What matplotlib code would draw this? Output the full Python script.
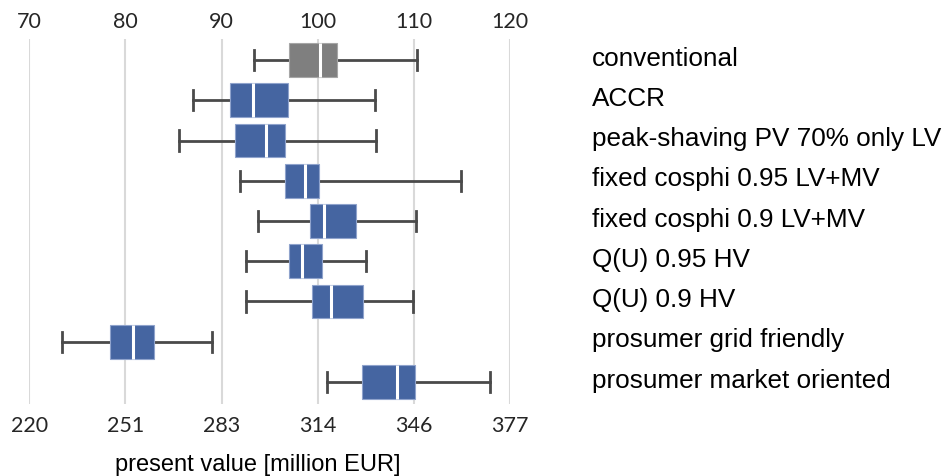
import matplotlib
matplotlib.use("Agg")
import matplotlib.pyplot as plt

# scenario names, top to bottom
SCENARIOS = [
    "conventional",
    "ACCR",
    "peak-shaving PV 70% only LV",
    "fixed cosphi 0.95 LV+MV",
    "fixed cosphi 0.9 LV+MV",
    "Q(U) 0.95 HV",
    "Q(U) 0.9 HV",
    "prosumer grid friendly",
    "prosumer market oriented",
]

# present value relative to the conventional median [%]
WHISKER_LOW = [93.4, 87.0, 85.6, 91.9, 93.8, 92.5, 92.5, 73.4, 101.0]
Q1 = [97.0, 90.9, 91.4, 96.6, 99.2, 97.0, 99.4, 78.4, 104.6]
MEDIAN = [100.2, 93.3, 94.6, 98.7, 100.7, 98.4, 101.4, 80.8, 108.2]
Q3 = [102.0, 96.9, 96.6, 100.1, 104.0, 100.4, 104.7, 83.0, 110.1]
WHISKER_HIGH = [110.3, 106.0, 106.1, 114.9, 110.2, 105.0, 109.9, 89.0, 117.9]

PCT_TICKS = [70, 80, 90, 100, 110, 120]
EUR_TICK_LABELS = ["220", "251", "283", "314", "346", "377"]

REFERENCE_COLOR = "#7f7f7f"
SCENARIO_COLOR = "#4565a1"
WHISKER_COLOR = "#4a4a4a"
GRID_COLOR = "#d9d9d9"
TICK_FONT = "Lato"
LABEL_FONT = "Liberation Sans"

fig = plt.figure(figsize=(9.5, 4.77), dpi=100)
ax = fig.add_axes([29.3 / 950, 1 - 405 / 477, (510 - 29.3) / 950, 365 / 477])

stats = []
for lo, q1, med, q3, hi in zip(WHISKER_LOW, Q1, MEDIAN, Q3, WHISKER_HIGH):
    stats.append({"whislo": lo, "q1": q1, "med": med, "q3": q3, "whishi": hi, "fliers": []})

positions = list(range(1, len(SCENARIOS) + 1))
parts = ax.bxp(
    stats,
    positions=positions,
    vert=False,
    widths=0.84,
    capwidths=0.5,
    patch_artist=True,
    showfliers=False,
    boxprops={"linewidth": 0.8, "edgecolor": "#8fa3cc"},
    medianprops={"color": "white", "linewidth": 2.2},
    whiskerprops={"color": WHISKER_COLOR, "linewidth": 2},
    capprops={"color": WHISKER_COLOR, "linewidth": 2},
)
for i, box in enumerate(parts["boxes"]):
    if i == 0:
        box.set_facecolor(REFERENCE_COLOR)
        box.set_edgecolor("#a6a6a6")
    else:
        box.set_facecolor(SCENARIO_COLOR)
    box.set_zorder(3)
for line in parts["medians"]:
    line.set_zorder(4)

ax.set_xlim(70, 120)
ax.set_ylim(9.547, 0.478)
ax.set_yticks([])
for side in ["top", "bottom", "left", "right"]:
    ax.spines[side].set_visible(False)

ax.set_xticks(PCT_TICKS, labels=EUR_TICK_LABELS)
ax.xaxis.grid(True, color=GRID_COLOR, linewidth=1.5)
ax.set_axisbelow(True)
ax.tick_params(axis="x", length=0, pad=8)
for lbl in ax.get_xticklabels():
    lbl.set_fontfamily(TICK_FONT)
    lbl.set_fontsize(15.5)
    lbl.set_color("#262626")

top = ax.secondary_xaxis("top")
top.set_xticks(PCT_TICKS, labels=[str(t) for t in PCT_TICKS])
top.tick_params(axis="x", length=0, pad=6)
top.spines["top"].set_visible(False)
for lbl in top.get_xticklabels():
    lbl.set_fontfamily(TICK_FONT)
    lbl.set_fontsize(15.5)
    lbl.set_color("#262626")

# scenario names to the right of the plot area
for pos, name in zip(positions, SCENARIOS):
    ax.annotate(
        name,
        xy=(1, pos),
        xycoords=("axes fraction", "data"),
        xytext=(58.8, -3.3),
        textcoords="offset points",
        va="baseline",
        ha="left",
        fontsize=18.8,
        family=LABEL_FONT,
        color="black",
    )

fig.text(115 / 950, 1 - 471.5 / 477, "present value [million EUR]",
         ha="left", va="baseline", fontsize=17, family=LABEL_FONT, color="black")

fig.savefig("out.png", dpi=100, facecolor="white")
